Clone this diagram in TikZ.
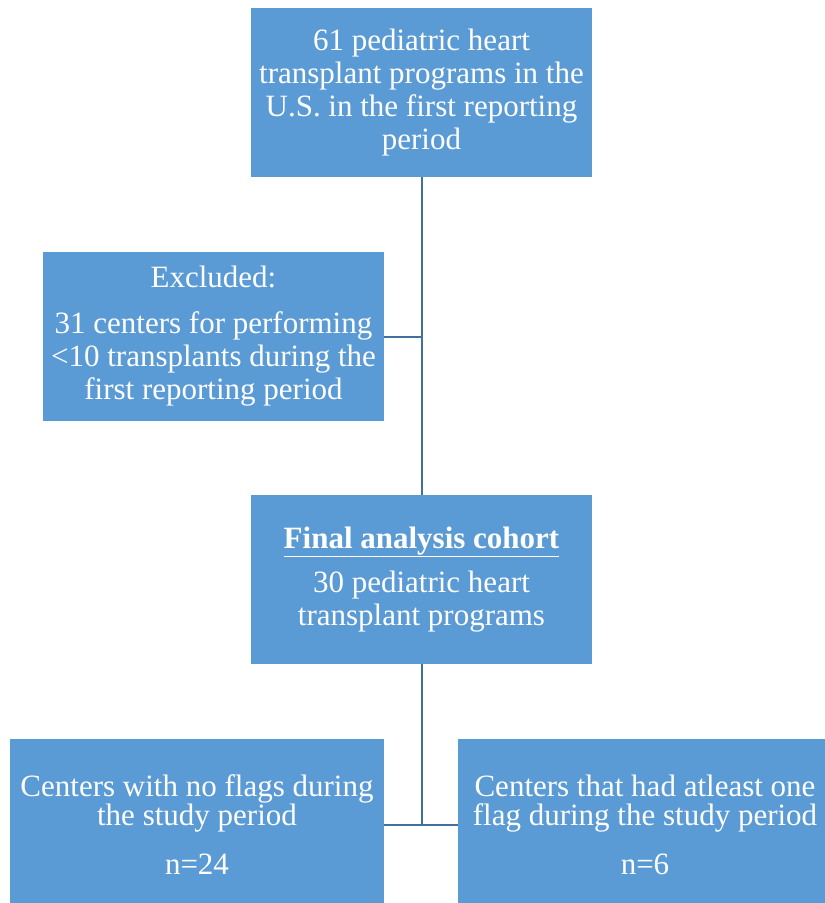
\documentclass[tikz,border=0pt]{standalone}
\usepackage{fontspec}
\setmainfont{Liberation Serif}
\usetikzlibrary{positioning}
\definecolor{boxblue}{RGB}{91,155,213}
\definecolor{lineblue}{RGB}{65,113,156}

\begin{document}
\begin{tikzpicture}[x=1pt,y=-1pt,
  flowbox/.style={fill=boxblue,text=white,align=center,inner sep=0pt,
    minimum width=341,minimum height=169,font=\rmfamily\fontsize{31}{33}\selectfont},
  sidebox/.style={flowbox,minimum width=374,minimum height=171,
    font=\rmfamily\fontsize{31}{29}\selectfont},
  link/.style={draw=lineblue,line width=2pt}]
  \useasboundingbox (0,0) rectangle (825,903);
  \node[flowbox] (programs) at (421.5,92.5)
    {61 pediatric heart\\transplant programs in the\\U.S. in the first reporting\\period};
  \node[flowbox] (excluded) at (213.5,336.5)
    {Excluded:\\[13pt]31 centers for performing\\<10 transplants during the\\first reporting period};
  \node[flowbox] (final) at (421.5,579.5)
    {\textbf{\underline{Final analysis cohort}}\\[11pt]30 pediatric heart\\transplant programs};
  \node[sidebox] (noflags) at (197,824.5)
    {Centers with no flags during\\the study period\\[20pt]n=24};
  \node[sidebox] (flagged) at (645,824.5)
    {Centers that had atleast one\\flag during the study period\\[20pt]n=6};
  % connectors
  \draw[link] (programs.south) -- (final.north);
  \draw[link] (excluded.east) -- (excluded.east -| programs.south);
  \draw[link] (final.south) -- (final.south |- noflags.east);
  \draw[link] (noflags.east) -- (flagged.west);
\end{tikzpicture}
\end{document}
